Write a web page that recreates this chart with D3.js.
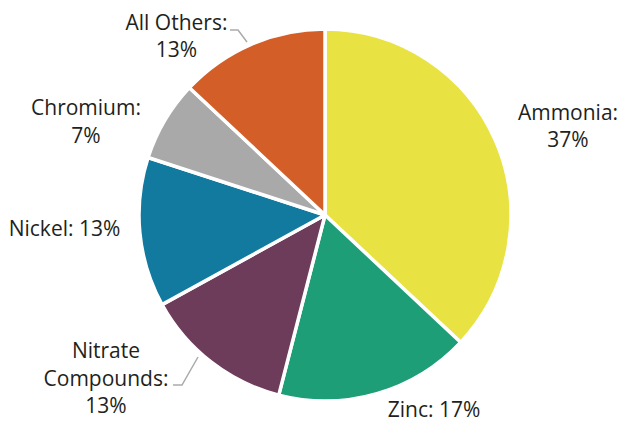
<!DOCTYPE html>
<html><head><meta charset="utf-8">
<script src="https://cdn.jsdelivr.net/npm/d3@7"></script>
<style>html,body{margin:0;padding:0;background:#fff;}svg{display:block;}</style>
</head><body>
<svg id="chart" width="621" height="424"></svg>
<script>
const categories = ["Ammonia", "Zinc", "Nitrate Compounds", "Nickel", "Chromium", "All Others"];
const values = [37, 17, 13, 13, 7, 13];
const colors = ["#E9E243", "#1D9E77", "#6D3C5A", "#127A9E", "#A9A9A9", "#D35E28"];
// label text lines (content)
const labelLines = [
  ["Ammonia:", "37%"],
  ["Zinc: 17%"],
  ["Nitrate", "Compounds:", "13%"],
  ["Nickel: 13%"],
  ["Chromium:", "7%"],
  ["All Others:", "13%"]
];
// layout (positions)
const labelPos = [
  {x: 568, y: [120, 147]},
  {x: 434, y: [417]},
  {x: 106, y: [358, 386, 413]},
  {x: 64.5, y: [236]},
  {x: 86, y: [115, 143]},
  {x: 176.5, y: [30, 57]}
];
const leaders = [
  null, null,
  [[173,385],[182,385],[198,357]],
  null, null,
  [[230,30],[238,30],[247,42]]
];

const svg = d3.select("#chart");
const cx = 325, cy = 215, r = 186;
const g = svg.append("g").attr("transform", `translate(${cx},${cy})`);
const data = categories.map((c, i) => ({cat: c, value: values[i], i}));
const pie = d3.pie().value(d => d.value).sort(null);
const arc = d3.arc().innerRadius(0).outerRadius(r);
g.selectAll("path").data(pie(data)).join("path")
  .attr("d", arc)
  .attr("fill", d => colors[d.data.i])
  .attr("stroke", "#fff")
  .attr("stroke-width", 3.5)
  .attr("stroke-linejoin", "round");

const line = d3.line();
leaders.forEach(l => {
  if (!l) return;
  svg.append("path").attr("d", line(l)).attr("fill", "none")
    .attr("stroke", "#aaaaaa").attr("stroke-width", 1.5);
});

labelLines.forEach((lines, i) => {
  const p = labelPos[i];
  lines.forEach((t, j) => {
    svg.append("text").attr("x", p.x).attr("y", p.y[j])
      .attr("text-anchor", "middle")
      .attr("font-family", "'Open Sans', sans-serif")
      .attr("font-size", 21)
      .attr("fill", "#231f20")
      .text(t);
  });
});
</script>
</body></html>
